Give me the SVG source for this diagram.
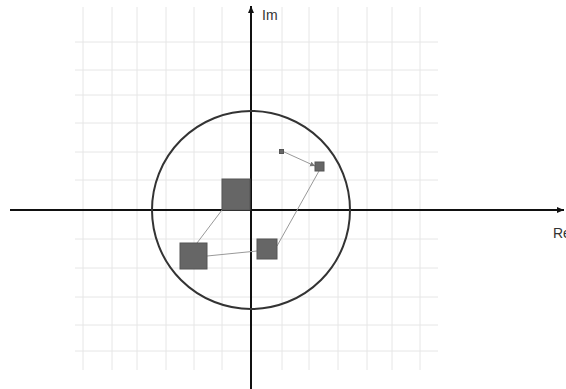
<svg xmlns="http://www.w3.org/2000/svg" width="566" height="389" viewBox="0 0 566 389">
<style>
.grid{stroke:#e6e6e6;stroke-width:1;fill:none}
.axis{stroke:#111;stroke-width:2;fill:none}
.sq{fill:#666;stroke:#555;stroke-width:1}
.link{stroke:#999;stroke-width:1;fill:none}
.lbl{font-family:"Liberation Sans",Arial,sans-serif;font-size:14px;fill:#333}
</style>
<defs>
<marker id="ah" markerWidth="8" markerHeight="8" refX="7" refY="4" orient="auto" markerUnits="userSpaceOnUse">
<path d="M0,1 L7,4 L0,7 Z" fill="#111"/>
</marker>
<marker id="ah2" markerWidth="6" markerHeight="6" refX="5" refY="3" orient="auto" markerUnits="userSpaceOnUse">
<path d="M0,0.5 L5,3 L0,5.5 Z" fill="#777"/>
</marker>
</defs>
<g id="grid" class="grid">
<path d="M83,7V370M112,7V370M137,7V370M166,7V370M194,7V370M222,7V370M282,7V370M309,7V370M338,7V370M367,7V370M392,7V370M420,7V370"/>
<path d="M75,42H438M75,70H438M75,95H438M75,123H438M75,152H438M75,180H438M75,239H438M75,268H438M75,297H438M75,325H438M75,351H438"/>
</g>
<g id="axes">
<line class="axis" x1="10" y1="210" x2="564" y2="210" marker-end="url(#ah)"/>
<line class="axis" x1="251" y1="389" x2="251" y2="6" marker-end="url(#ah)"/>
<text class="lbl" x="262" y="20">Im</text>
<text class="lbl" x="553" y="238">Re</text>
</g>
<g id="circle">
<circle cx="251" cy="210" r="99" fill="none" stroke="#333" stroke-width="2"/>
</g>
<g id="connectors">
<line class="link" x1="222" y1="210" x2="197" y2="243"/>
<line class="link" x1="207" y1="256" x2="257" y2="251"/>
<line class="link" x1="277" y1="246" x2="319" y2="171"/>
<line class="link" x1="282" y1="151" x2="315" y2="166" marker-end="url(#ah2)"/>
</g>
<g id="n1"><rect class="sq" x="222" y="179" width="28" height="31"/></g>
<g id="n2"><rect class="sq" x="180" y="243" width="27" height="26"/></g>
<g id="n3"><rect class="sq" x="257" y="239" width="20" height="20"/></g>
<g id="n4"><rect class="sq" x="315" y="162" width="9" height="9"/></g>
<g id="n5"><rect class="sq" x="279.5" y="149.5" width="4" height="4"/></g>
</svg>
